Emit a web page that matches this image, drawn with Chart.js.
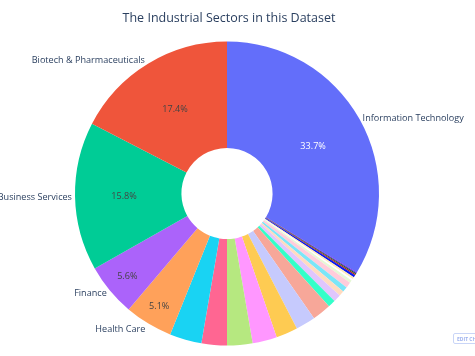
<!DOCTYPE html>
<html>
<head>
<meta charset="utf-8">
<script src="https://cdn.jsdelivr.net/npm/chart.js@4"></script>
<style>
  html, body { margin: 0; padding: 0; background: #fff; overflow: hidden; }
  #wrap { position: relative; width: 475px; height: 356px; }
  #edit { position: absolute; left: 453px; top: 333px; width: 40px; height: 11px;
          border: 1px solid #c9d5f7; border-radius: 2px; font: bold 5px "Open Sans", sans-serif;
          color: #9db1ee; line-height: 11px; padding-left: 3px; white-space: nowrap; box-sizing: border-box; }
</style>
</head>
<body>
<div id="wrap">
  <canvas id="c" width="475" height="356"></canvas>
  <div id="edit">EDIT CHART</div>
</div>
<script>
// Data in the original (Plotly) slice order: counter-clockwise from 12 o'clock, first slice last
const titleText = "The Industrial Sectors in this Dataset";
const categories = [
  "Information Technology", "Biotech & Pharmaceuticals", "Business Services", "Finance", "Health Care",
  "Energy", "Consumer Products & Services", "Manufacturing", "Media & Entertainment", "Retail",
  "Telecommunications", "Real Estate", "Insurance", "Education", "Environmental Services",
  "Logistics & Transportation", "Food & Beverage", "Security", "Government Services", "Travel & Hospitality",
  "Construction", "Human Resources", "Advertising & Marketing", "Computer Hardware"
];
const sharePercent = [
  33.7, 17.4, 15.8, 5.6, 5.1,
  3.4, 2.7, 2.7, 2.6, 2.3,
  2.1, 2.0, 0.8, 0.8, 0.55,
  0.55, 0.6, 0.3, 0.2, 0.2,
  0.25, 0.15, 0.1, 0.1
];
const sliceColors = [
  "#636efa", "#EF553B", "#00cc96", "#ab63fa", "#FFA15A",
  "#19d3f3", "#FF6692", "#B6E880", "#FF97FF", "#FECB52",
  "#c6cafd", "#f7a799", "#33ffc9", "#e0c6fd", "#ffdbc0",
  "#7ae6f8", "#ffccdb", "#e6f8d6", "#fffdff", "#ffe9b7",
  "#0819ef", "#b5270f", "#00664b", "#7608ef"
];
const labelMinShare = 5; // only slices above this show text

// Chart.js draws clockwise from 12 o'clock: first slice, then the rest reversed
const order = [0].concat(categories.map((_, i) => i).slice(1).reverse());
const cLabels = order.map(i => categories[i]);
const cValues = order.map(i => sharePercent[i]);
const cColors = order.map(i => sliceColors[i]);

const FONT = '"Open Sans", "DejaVu Sans", sans-serif';
const TEXT_FS = 9.1;
const TITLE_FS = 12.5;

function contrastColor(hex) {
  const h = hex.replace('#', '');
  const r = parseInt(h.substr(0, 2), 16), g = parseInt(h.substr(2, 2), 16), b = parseInt(h.substr(4, 2), 16);
  const br = (r * 299 + g * 587 + b * 114) / 1000;
  return br < 128 ? '#ffffff' : '#444444';
}

const plotlyText = {
  id: 'plotlyText',
  afterDatasetsDraw(chart) {
    const ctx = chart.ctx;
    const meta = chart.getDatasetMeta(0);
    const total = cValues.reduce((a, b) => a + b, 0);
    const base = 0.388 * TEXT_FS; // baseline below bbox centre (Plotly-like)
    ctx.save();
    ctx.font = TEXT_FS + 'px ' + FONT;
    ctx.textAlign = 'center';
    ctx.textBaseline = 'alphabetic';
    meta.data.forEach((arc, i) => {
      const share = cValues[i] / total * 100;
      if (share < labelMinShare) return;
      const p = arc.getProps(['x', 'y', 'startAngle', 'endAngle', 'innerRadius', 'outerRadius'], true);
      const mid = (p.startAngle + p.endAngle) / 2;
      const half = (p.endAngle - p.startAngle) / 2;
      const R = p.outerRadius;
      const ring = 1 - p.innerRadius / R;
      const rIns = Math.min(1 / (1 + 1 / Math.sin(half)), ring / 2);
      const rc = (1 - rIns) * R;
      ctx.fillStyle = contrastColor(cColors[i]);
      ctx.fillText(share.toFixed(1) + '%', p.x + rc * Math.cos(mid), p.y + rc * Math.sin(mid) + base);
      // outside label (Plotly-style placement)
      const mx = R * Math.cos(mid), my = R * Math.sin(mid);
      const w = ctx.measureText(cLabels[i]).width, h = TEXT_FS * 1.36;
      let dx = w / 2, dy = h / 2;
      if (mx < 0) dx = -dx;
      if (my < 0) dy = -dy;
      const ox = dx + Math.abs(dy) * (dx > 0 ? 1 : -1) / 2;
      const oy = dy / (1 + (mx * mx) / (my * my || 1e-9));
      ctx.fillStyle = '#2a3f5f';
      ctx.fillText(cLabels[i], p.x + mx + ox, p.y + my + oy + base);
    });
    ctx.restore();
  },
  afterDraw(chart) {
    const ctx = chart.ctx;
    ctx.save();
    ctx.font = TITLE_FS + 'px ' + FONT;
    ctx.fillStyle = '#2a3f5f';
    ctx.textAlign = 'center';
    ctx.textBaseline = 'alphabetic';
    ctx.fillText(titleText, 229, 21.5);
    ctx.restore();
  }
};

new Chart(document.getElementById('c'), {
  type: 'doughnut',
  data: {
    labels: cLabels,
    datasets: [{
      data: cValues,
      backgroundColor: cColors,
      borderWidth: 0,
      hoverOffset: 0
    }]
  },
  options: {
    responsive: false,
    animation: false,
    cutout: '30%',
    layout: { padding: { left: 75, right: 96, top: 41, bottom: 10 } },
    plugins: {
      legend: { display: false },
      tooltip: { enabled: false },
      title: { display: false }
    }
  },
  plugins: [plotlyText]
});
</script>
</body>
</html>
